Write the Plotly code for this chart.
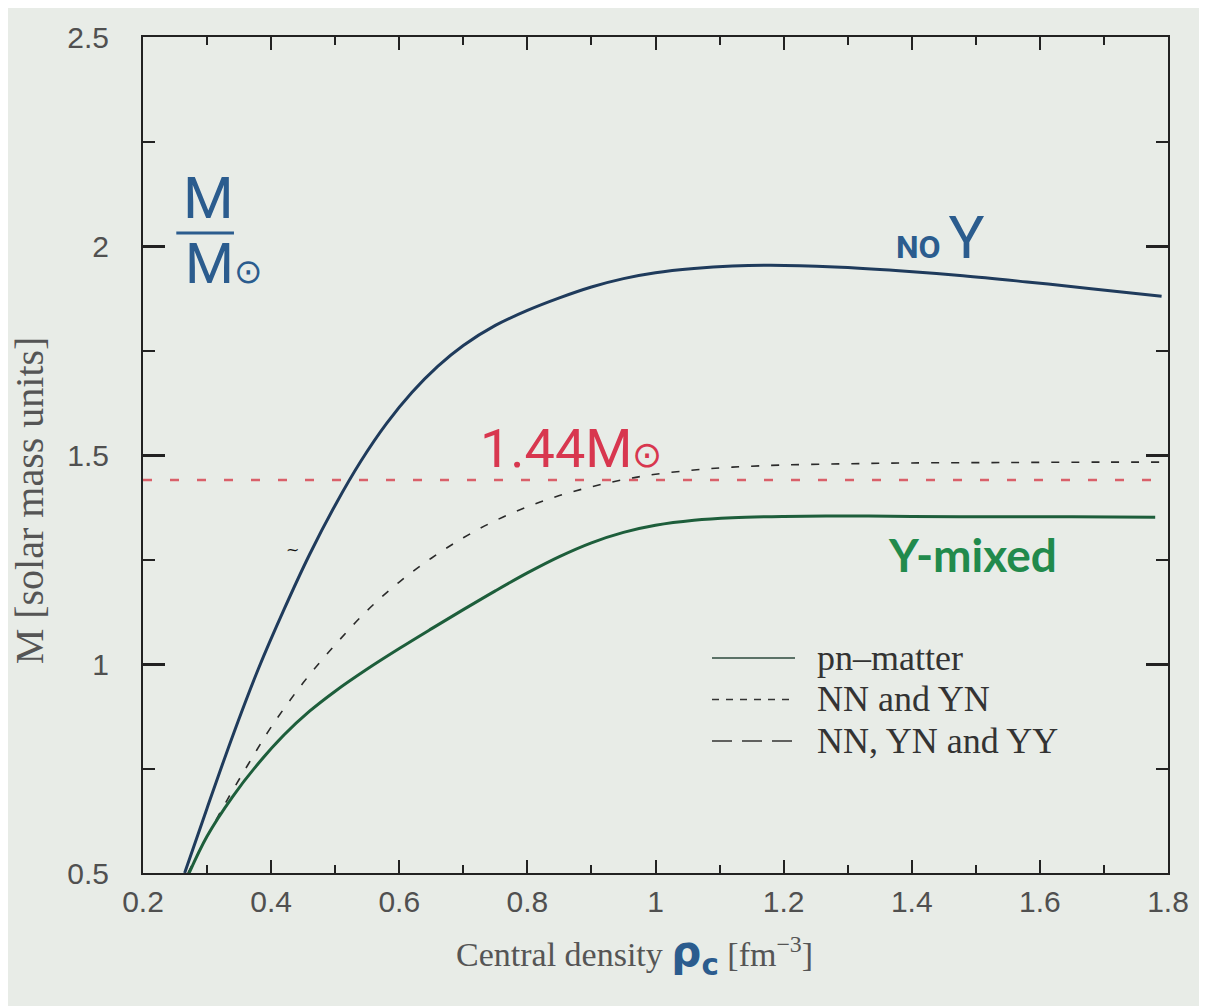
import plotly.graph_objects as go

# ---- data ----
x_pn = [0.265, 0.30, 0.34, 0.38, 0.42, 0.46, 0.50, 0.54, 0.58, 0.62, 0.66, 0.70, 0.75, 0.80,
        0.85, 0.90, 0.95, 1.00, 1.06, 1.12, 1.18, 1.28, 1.38, 1.48, 1.58, 1.68, 1.79]
m_pn = [0.500, 0.655, 0.828, 0.988, 1.130, 1.262, 1.380, 1.485, 1.575, 1.650, 1.712, 1.762, 1.810, 1.846,
        1.876, 1.902, 1.922, 1.936, 1.946, 1.952, 1.954, 1.950, 1.941, 1.929, 1.914, 1.898, 1.880]

x_nnyn = [0.27, 0.295, 0.33, 0.365, 0.40, 0.45, 0.50, 0.55, 0.60, 0.65, 0.70, 0.75, 0.80, 0.85,
          0.90, 0.95, 1.00, 1.06, 1.12, 1.20, 1.30, 1.40, 1.55, 1.70, 1.79]
m_nnyn = [0.500, 0.573, 0.671, 0.762, 0.849, 0.955, 1.046, 1.128, 1.196, 1.253, 1.302, 1.343, 1.376, 1.403,
          1.424, 1.441, 1.454, 1.464, 1.471, 1.476, 1.479, 1.481, 1.482, 1.483, 1.483]

x_yy = [0.272, 0.30, 0.34, 0.38, 0.42, 0.46, 0.50, 0.55, 0.60, 0.65, 0.70, 0.75, 0.80, 0.85,
        0.90, 0.95, 1.00, 1.06, 1.12, 1.20, 1.30, 1.40, 1.55, 1.65, 1.78]
m_yy = [0.500, 0.588, 0.683, 0.762, 0.830, 0.887, 0.935, 0.988, 1.037, 1.084, 1.130, 1.175, 1.218, 1.257,
        1.290, 1.315, 1.332, 1.344, 1.350, 1.353, 1.354, 1.353, 1.352, 1.352, 1.351]

x_chandra = [0.2, 1.8]
m_chandra = [1.44, 1.44]

x_ticks = [0.2, 0.4, 0.6, 0.8, 1.0, 1.2, 1.4, 1.6, 1.8]
x_ticklabels = ["0.2", "0.4", "0.6", "0.8", "1", "1.2", "1.4", "1.6", "1.8"]
y_ticks = [0.5, 1.0, 1.5, 2.0, 2.5]
y_ticklabels = ["0.5", "1", "1.5", "2", "2.5"]

legend_names = ["pn\u2013matter", "NN and YN", "NN, YN and YY"]

# ---- styles ----
BG = "#e8ece7"
BLUE_INK = "#2b5c8e"
RED_INK = "#d8374f"
GREEN_INK = "#218a4c"
HAND = "Liberation Sans Narrow, Roboto, Liberation Sans"

fig = go.Figure()

fig.add_trace(go.Scatter(x=x_chandra, y=m_chandra, mode="lines", name="1.44 Msun",
                         line=dict(color="#d9606a", width=2.5, dash="9px,18px"),
                         showlegend=False))
fig.add_trace(go.Scatter(x=x_pn, y=m_pn, mode="lines", name=legend_names[0],
                         line=dict(color="#1f3b5c", width=3, shape="spline", smoothing=1),
                         showlegend=False))
fig.add_trace(go.Scatter(x=x_nnyn, y=m_nnyn, mode="lines", name=legend_names[1],
                         line=dict(color="#2a2a2a", width=1.6, dash="8px,12px", shape="spline", smoothing=1),
                         showlegend=False))
fig.add_trace(go.Scatter(x=x_yy, y=m_yy, mode="lines", name=legend_names[2],
                         line=dict(color="#1d5e3b", width=3, shape="spline", smoothing=1),
                         showlegend=False))

axis_common = dict(showgrid=False, zeroline=False, showline=True, linecolor="#222",
                   linewidth=2, mirror="ticks", ticks="inside", tickcolor="#222",
                   tickfont=dict(family="Liberation Sans, Arial", size=30, color="#505050"))

fig.update_xaxes(range=[0.2, 1.8], tickvals=x_ticks, ticktext=x_ticklabels,
                 ticklen=13, tickwidth=2, ticklabelstandoff=1,
                 minor=dict(dtick=0.1, ticks="inside", ticklen=8, tickwidth=1.5, tickcolor="#222"),
                 **axis_common)
fig.update_yaxes(range=[0.5, 2.5], tickvals=y_ticks, ticktext=y_ticklabels,
                 ticklen=22, tickwidth=2.5, ticklabelstandoff=26,
                 minor=dict(dtick=0.25, ticks="inside", ticklen=12, tickwidth=2, tickcolor="#222"),
                 **axis_common)

# page has an 8px body margin; coordinates below are reference pixels
OFF = 8
L, T, PW, PH = 143 - OFF, 25 - OFF, 1025, 848


def px2paper(px, py):
    return (px - 143) / PW, (873 - py) / PH


shapes = []
annotations = []
leg_rows = [(655, "solid", "#2c4a3c", 1.5), (697, "7px,7px", "#333", 1.5), (739, "20px,10px", "#333", 1.5)]
for (py, dash, col, w), name in zip(leg_rows, legend_names):
    x0, y0 = px2paper(712, py)
    x1, _ = px2paper(795, py)
    shapes.append(dict(type="line", xref="paper", yref="paper", x0=x0, x1=x1, y0=y0, y1=y0,
                       line=dict(color=col, width=w, dash=dash)))
    tx, _ = px2paper(815, py)
    annotations.append(dict(xref="paper", yref="paper", x=tx, y=y0, xanchor="left", yanchor="middle",
                            text=name, showarrow=False,
                            font=dict(family="Liberation Serif, Times New Roman", size=36, color="#333")))

# M / M_sun fraction (hand-written)
annotations.append(dict(x=0.302, y=2.115, xref="x", yref="y", text="M", showarrow=False,
                        xanchor="center", yanchor="middle", font=dict(family=HAND, size=58, color=BLUE_INK)))
shapes.append(dict(type="line", xref="x", yref="y", x0=0.252, x1=0.342, y0=2.031, y1=2.031,
                   line=dict(color=BLUE_INK, width=3)))
annotations.append(dict(x=0.326, y=1.958, xref="x", yref="y",
                        text="M<span style='font-size:34px'>\u2299</span>", showarrow=False,
                        xanchor="center", yanchor="middle", font=dict(family=HAND, size=56, color=BLUE_INK)))

# NO Y
annotations.append(dict(x=1.372, y=2.02, xref="x", yref="y",
                        text="<b>NO</b> <span style='font-size:60px'>Y</span>", showarrow=False,
                        xanchor="left", yanchor="middle", font=dict(family=HAND, size=32, color=BLUE_INK)))
# 1.44 Msun
annotations.append(dict(x=0.868, y=1.515, xref="x", yref="y",
                        text="1.44M<span style='font-size:36px'>\u2299</span>", showarrow=False,
                        xanchor="center", yanchor="middle", font=dict(family=HAND, size=54, color=RED_INK)))
# Y-mixed
annotations.append(dict(x=1.495, y=1.262, xref="x", yref="y", text="<b>Y-mixed</b>", showarrow=False,
                        xanchor="center", yanchor="middle", font=dict(family="Lato, Noto Sans", size=46, color=GREEN_INK)))
# small tilde mark
annotations.append(dict(x=0.433, y=1.274, xref="x", yref="y", text="~", showarrow=False,
                        font=dict(family="DejaVu Sans", size=16, color="#111")))

# axis titles
tx, ty = px2paper(29, 495)
annotations.append(dict(xref="paper", yref="paper", x=tx, y=ty, text="M [solar mass units]",
                        textangle=-90, showarrow=False, xanchor="center", yanchor="middle",
                        font=dict(family="Liberation Serif, Times New Roman", size=40, color="#555")))
tx, ty = px2paper(634, 956)
annotations.append(dict(xref="paper", yref="paper", x=tx, y=ty,
                        text="Central density <span style='color:%s;font-family:%s;font-size:42px'><b>\u03c1<sub>c</sub></b></span> [fm<sup>\u22123</sup>]" % (BLUE_INK, "DejaVu Sans"),
                        showarrow=False, xanchor="center", yanchor="middle",
                        font=dict(family="Liberation Serif, Times New Roman", size=34, color="#555")))

fig.update_layout(width=1207 - OFF, height=1006 - OFF,
                  margin=dict(l=L, r=1207 - OFF - L - PW, t=T, b=1006 - OFF - T - PH),
                  paper_bgcolor=BG, plot_bgcolor=BG, showlegend=False,
                  shapes=shapes, annotations=annotations)

fig.write_html("out.html")
